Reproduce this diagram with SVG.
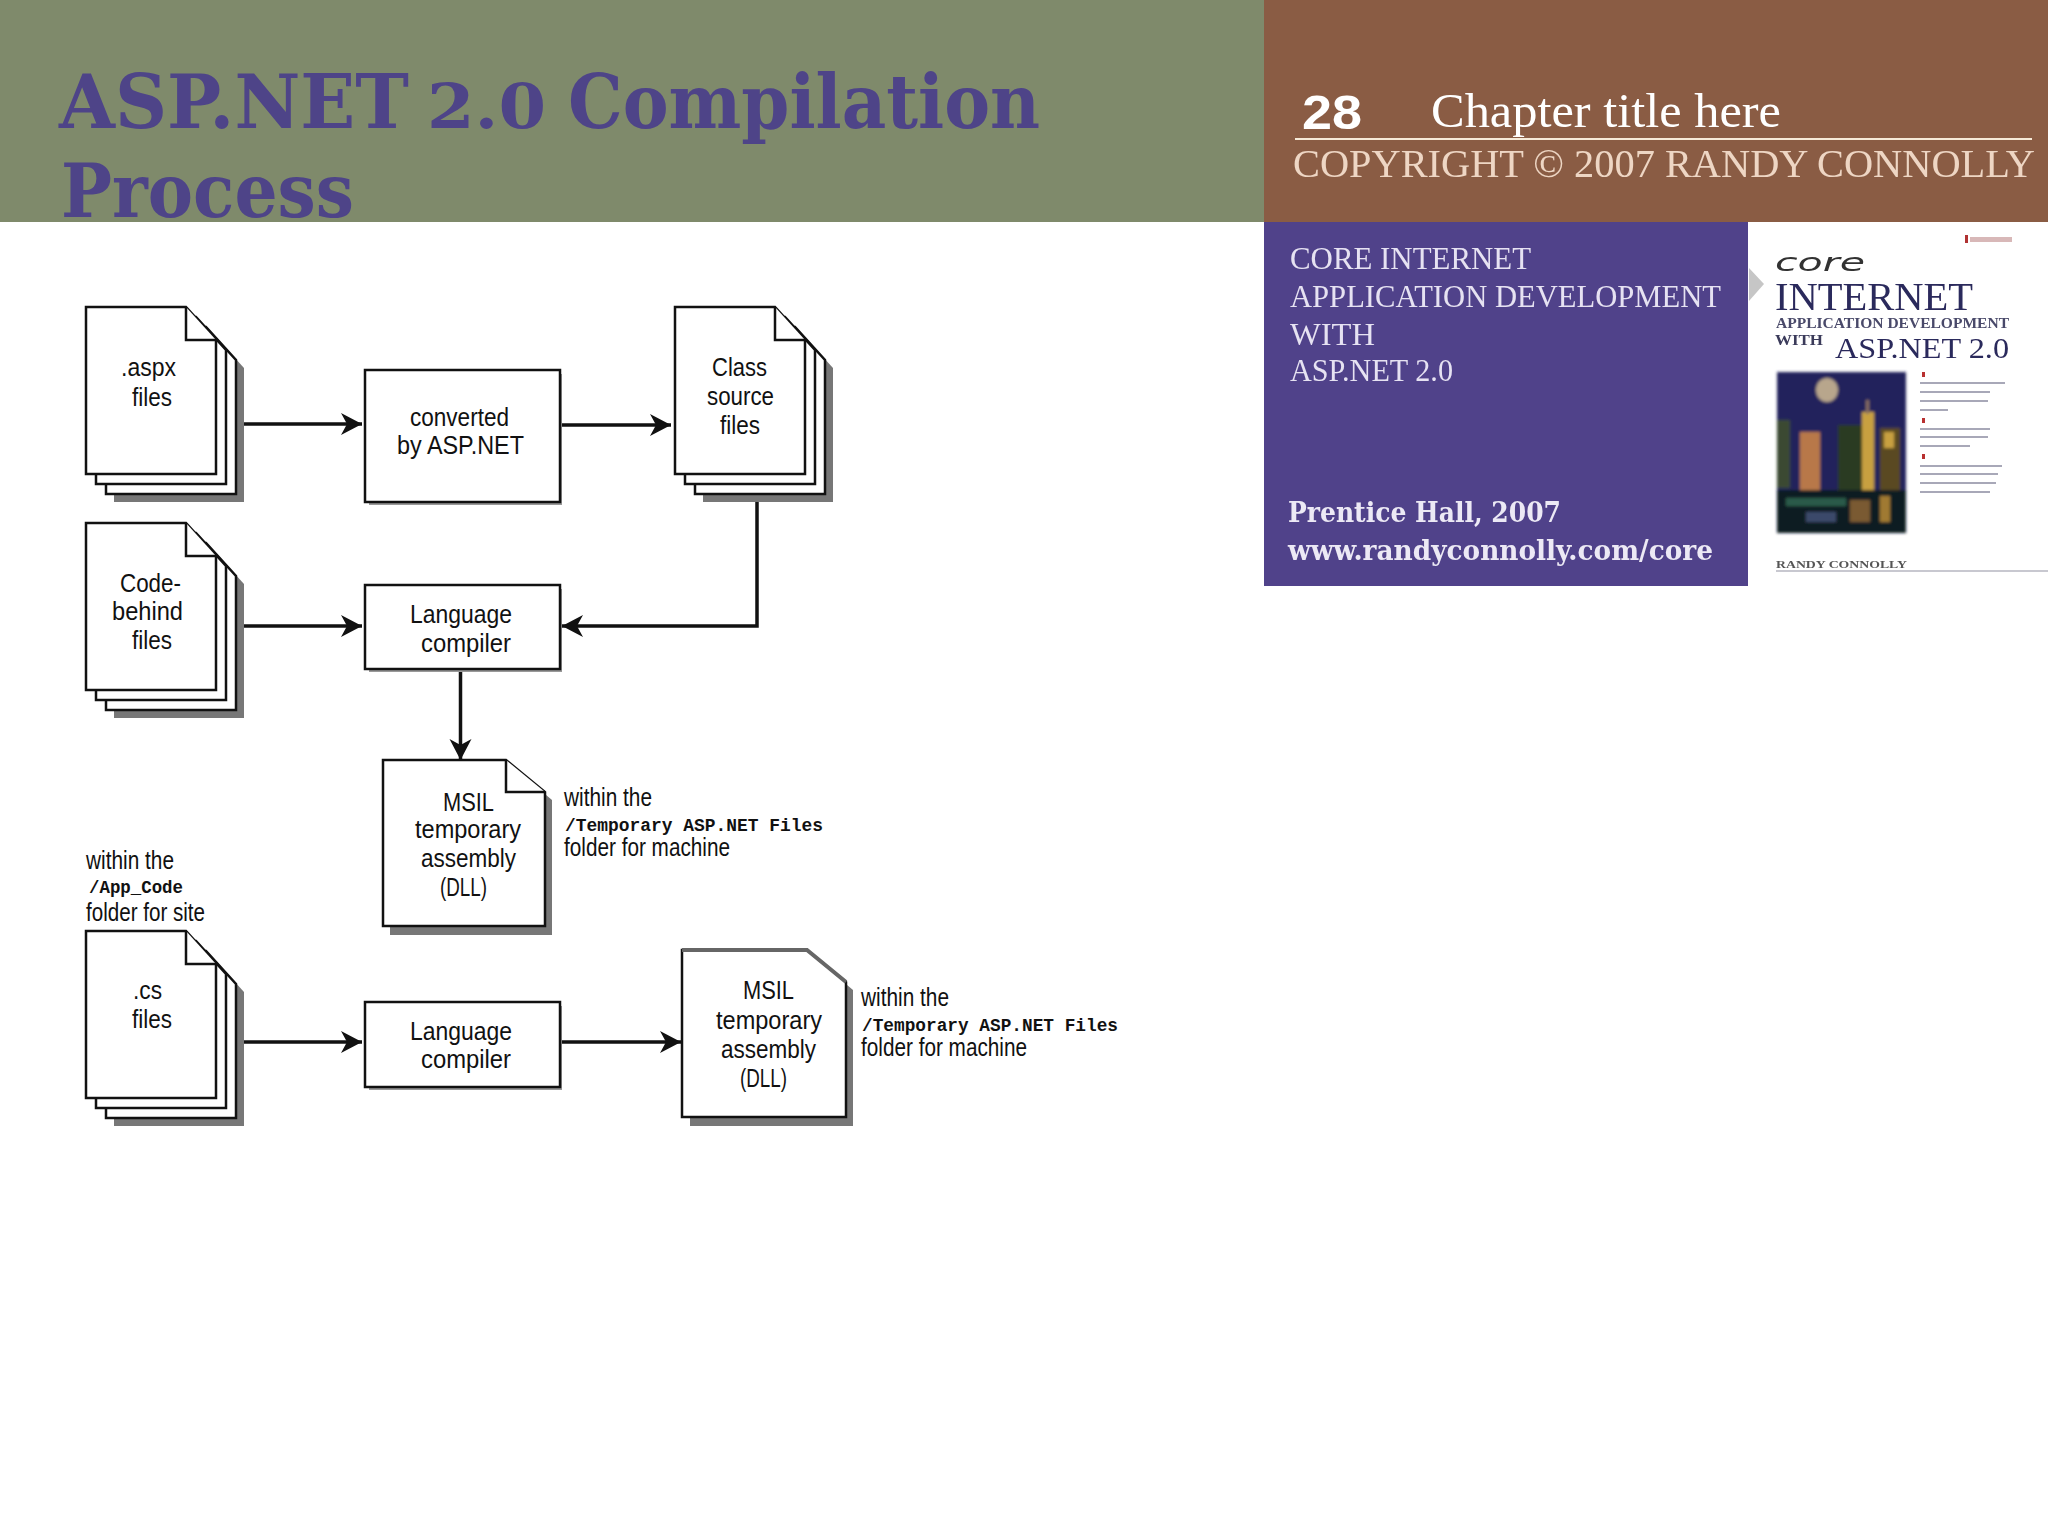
<svg xmlns="http://www.w3.org/2000/svg" xmlns:xlink="http://www.w3.org/1999/xlink" width="2048" height="1536" viewBox="0 0 2048 1536">
<style>
.ln{fill:#fff;stroke:#111;stroke-width:2.5;stroke-linejoin:miter}
.sh{fill:#777;stroke:none}
.con{fill:none;stroke:#111;stroke-width:3.500}
.t{font-family:"Liberation Sans",Arial,sans-serif;font-size:26px;fill:#111}
.m{font-family:"Liberation Mono","Courier New",monospace;font-size:18px;font-weight:bold;fill:#111}
.hd{font-family:"DejaVu Serif","Liberation Serif",serif;font-weight:bold;font-size:74px;fill:#4e4488}
.rs{font-family:"Liberation Serif","Times New Roman",serif}
.c{font-family:"Liberation Serif","Times New Roman",serif;font-size:32px;fill:#e6e2f2}
.b{font-family:"DejaVu Serif","Liberation Serif",serif;font-weight:bold;font-size:28px;fill:#ece9f5}
.blur{filter:url(#softer)}
</style>
<defs>
<marker id="ah" markerUnits="userSpaceOnUse" markerWidth="24" markerHeight="24" refX="21" refY="12" orient="auto"><path d="M0,1 L21,12 L0,23 L6,12 Z" fill="#111"/></marker>
<g id="stack">
<polygon class="sh" points="28,28 128,28 158,61 158,195 28,195"/>
<polygon class="ln" points="20,20 120,20 150,53 150,187 20,187"/>
<polygon class="ln" points="10,10 110,10 140,43 140,177 10,177"/>
<polygon class="ln" points="0,0 100,0 130,33 130,167 0,167"/>
<path class="ln" d="M100,0 V33 H130"/>
</g>
<filter id="soft" x="-5%" y="-5%" width="110%" height="110%"><feGaussianBlur stdDeviation="1.5"/></filter>
<filter id="softer" x="-5%" y="-5%" width="110%" height="110%"><feGaussianBlur stdDeviation="0.6"/></filter>
</defs>

<rect width="2048" height="1536" fill="#fff"/>

<g id="header">
<rect x="0" y="0" width="1264" height="222" fill="#7f8a6b"/>
<rect x="1264" y="0" width="784" height="222" fill="#8a5c44"/>
<text class="hd" y="128"><tspan x="59" textLength="350" lengthAdjust="spacingAndGlyphs">ASP.NET</tspan> <tspan x="427" font-size="62" textLength="119" lengthAdjust="spacingAndGlyphs">2.0</tspan> <tspan x="568" textLength="472" lengthAdjust="spacingAndGlyphs">Compilation</tspan></text>
<text class="hd" x="61" y="217" textLength="293" lengthAdjust="spacingAndGlyphs">Process</text>
<text x="1302" y="129" font-family="Liberation Sans,Arial,sans-serif" font-weight="bold" font-size="48" fill="#fff" textLength="60" lengthAdjust="spacingAndGlyphs">28</text>
<text class="rs" x="1431" y="127" font-size="48" fill="#fff" textLength="350" lengthAdjust="spacingAndGlyphs">Chapter title here</text>
<rect x="1295" y="138" width="737" height="2" fill="#f6ead8"/>
<text class="rs blur" x="1293" y="177" font-size="39" fill="#eed6c4" textLength="742" lengthAdjust="spacingAndGlyphs">COPYRIGHT © 2007 RANDY CONNOLLY</text>
</g>

<g id="book-panel">
<rect x="1264" y="222" width="484" height="364" fill="#50428a"/>
<g class="blur">
<text class="c" x="1290" y="269" textLength="241" lengthAdjust="spacingAndGlyphs">CORE INTERNET</text>
<text class="c" x="1290" y="307" textLength="431" lengthAdjust="spacingAndGlyphs">APPLICATION DEVELOPMENT</text>
<text class="c" x="1290" y="345" textLength="85" lengthAdjust="spacingAndGlyphs">WITH</text>
<text class="c" x="1290" y="381" textLength="163" lengthAdjust="spacingAndGlyphs">ASP.NET 2.0</text>
<text class="b" x="1288" y="522" textLength="273" lengthAdjust="spacingAndGlyphs">Prentice Hall, 2007</text>
<text class="b" x="1288" y="560" textLength="425" lengthAdjust="spacingAndGlyphs">www.randyconnolly.com/core</text>
</g>
</g>

<g id="book-cover">
<polygon points="1749,268 1764,284 1749,301" fill="#c6c6c6"/>
<rect x="1965" y="235" width="3" height="8" fill="#b03030" class="blur"/>
<rect x="1970" y="237" width="42" height="5" fill="#d8b8b8" class="blur"/>
<g class="blur">
<text x="1775" y="271" font-family="DejaVu Sans,sans-serif" font-style="italic" font-size="24" fill="#333" textLength="90" lengthAdjust="spacingAndGlyphs">core</text>
<text class="rs" x="1775" y="310" font-size="40" fill="#2c2a5c" textLength="198" lengthAdjust="spacingAndGlyphs">INTERNET</text>
<text class="rs" x="1776" y="328" font-size="14" font-weight="bold" fill="#4a4a6a" textLength="233" lengthAdjust="spacingAndGlyphs">APPLICATION DEVELOPMENT</text>
<text class="rs" x="1775" y="345" font-size="14" font-weight="bold" fill="#3a3a5a" textLength="48" lengthAdjust="spacingAndGlyphs">WITH</text>
<text class="rs" x="1835" y="358" font-size="30" fill="#2c2a5c" textLength="174" lengthAdjust="spacingAndGlyphs">ASP.NET 2.0</text>
</g>
<g filter="url(#soft)">
<rect x="1777" y="372" width="129" height="161" fill="#24225c"/>
<rect x="1777" y="490" width="129" height="43" fill="#0e1a22"/>
<ellipse cx="1827" cy="390" rx="11" ry="12" fill="#b8a68c"/>
<rect x="1777" y="420" width="13" height="68" fill="#3a4a30"/>
<rect x="1800" y="432" width="20" height="58" fill="#b8784a"/>
<rect x="1838" y="425" width="28" height="65" fill="#2a3a22"/>
<rect x="1862" y="412" width="12" height="78" fill="#c8a040"/>
<rect x="1866" y="400" width="3" height="14" fill="#8a7060"/>
<rect x="1880" y="428" width="20" height="62" fill="#5a4a20"/>
<rect x="1884" y="432" width="10" height="16" fill="#c8a040"/>
<rect x="1786" y="498" width="60" height="8" fill="#2a5a4a"/>
<rect x="1850" y="500" width="20" height="22" fill="#7a5a30"/>
<rect x="1880" y="496" width="10" height="26" fill="#a07a30"/>
<rect x="1806" y="512" width="30" height="10" fill="#3a4a6a"/>
</g>
<g fill="#a8a8b8" class="blur">
<rect x="1920" y="382" width="85" height="2"/><rect x="1920" y="391" width="70" height="2"/><rect x="1920" y="400" width="68" height="2"/><rect x="1920" y="409" width="28" height="2"/>
<rect x="1920" y="428" width="70" height="2"/><rect x="1920" y="436" width="68" height="2"/><rect x="1920" y="445" width="50" height="2"/>
<rect x="1920" y="465" width="82" height="2"/><rect x="1920" y="473" width="78" height="2"/><rect x="1920" y="482" width="76" height="2"/><rect x="1920" y="491" width="70" height="2"/>
</g>
<g fill="#b83030"><rect x="1922" y="372" width="3" height="5"/><rect x="1922" y="418" width="3" height="5"/><rect x="1922" y="454" width="3" height="5"/></g>
<text class="rs blur" x="1776" y="568" font-size="11" font-weight="bold" fill="#555" textLength="131" lengthAdjust="spacingAndGlyphs">RANDY CONNOLLY</text>
<rect x="1776" y="570" width="272" height="2" fill="#c8c8d0"/>
</g>

<g id="connectors">
<path class="con" d="M243,424 H362" marker-end="url(#ah)"/>
<path class="con" d="M562,425 H671" marker-end="url(#ah)"/>
<path class="con" d="M243,626 H362" marker-end="url(#ah)"/>
<path class="con" d="M757,494 V626 H562" marker-end="url(#ah)"/>
<path class="con" d="M460.500,669 V760" marker-end="url(#ah)"/>
<path class="con" d="M242,1042 H362" marker-end="url(#ah)"/>
<path class="con" d="M562,1042 H681" marker-end="url(#ah)"/>
</g>

<g id="aspx-files"><use href="#stack" transform="translate(86,307)"/>
<text class="t" x="121" y="376" textLength="55" lengthAdjust="spacingAndGlyphs">.aspx</text>
<text class="t" x="132" y="406" textLength="40" lengthAdjust="spacingAndGlyphs">files</text></g>

<g id="converted">
<rect class="sh" x="369" y="374" width="193" height="131" style="fill:#999"/>
<rect class="ln" x="365" y="370" width="195" height="132"/>
<text class="t" x="410" y="426" textLength="99" lengthAdjust="spacingAndGlyphs">converted</text>
<text class="t" x="397" y="454" textLength="127" lengthAdjust="spacingAndGlyphs">by ASP.NET</text></g>

<g id="class-source"><use href="#stack" transform="translate(675,307)"/>
<text class="t" x="712" y="376" textLength="55" lengthAdjust="spacingAndGlyphs">Class</text>
<text class="t" x="707" y="405" textLength="67" lengthAdjust="spacingAndGlyphs">source</text>
<text class="t" x="720" y="434" textLength="40" lengthAdjust="spacingAndGlyphs">files</text></g>

<g id="code-behind"><use href="#stack" transform="translate(86,523)"/>
<text class="t" x="120" y="592" textLength="61" lengthAdjust="spacingAndGlyphs">Code-</text>
<text class="t" x="112" y="620" textLength="71" lengthAdjust="spacingAndGlyphs">behind</text>
<text class="t" x="132" y="649" textLength="40" lengthAdjust="spacingAndGlyphs">files</text></g>

<g id="compiler-1">
<rect class="sh" x="369" y="589" width="193" height="83" style="fill:#999"/>
<rect class="ln" x="365" y="585" width="195" height="84"/>
<text class="t" x="410" y="623" textLength="102" lengthAdjust="spacingAndGlyphs">Language</text>
<text class="t" x="421" y="652" textLength="90" lengthAdjust="spacingAndGlyphs">compiler</text></g>

<g id="msil-1">
<polygon class="sh" points="390,768 514,768 552,800 552,935 390,935"/>
<polygon class="ln" points="383,760 506,760 545,792 545,926 383,926"/>
<path class="ln" d="M506,760 V792 H545"/>
<text class="t" x="443" y="811" textLength="51" lengthAdjust="spacingAndGlyphs">MSIL</text>
<text class="t" x="415" y="838" textLength="106" lengthAdjust="spacingAndGlyphs">temporary</text>
<text class="t" x="421" y="867" textLength="95" lengthAdjust="spacingAndGlyphs">assembly</text>
<text class="t" x="440" y="896" textLength="47" lengthAdjust="spacingAndGlyphs">(DLL)</text></g>

<g id="note-temp-1">
<text class="t" x="564" y="806" textLength="88" lengthAdjust="spacingAndGlyphs">within the</text>
<text class="m" x="565" y="831" textLength="258" lengthAdjust="spacingAndGlyphs">/Temporary ASP.NET Files</text>
<text class="t" x="564" y="856" textLength="166" lengthAdjust="spacingAndGlyphs">folder for machine</text></g>

<g id="note-app-code">
<text class="t" x="86" y="869" textLength="88" lengthAdjust="spacingAndGlyphs">within the</text>
<text class="m" x="89" y="893" textLength="94" lengthAdjust="spacingAndGlyphs">/App_Code</text>
<text class="t" x="86" y="921" textLength="119" lengthAdjust="spacingAndGlyphs">folder for site</text></g>

<g id="cs-files"><use href="#stack" transform="translate(86,931)"/>
<text class="t" x="133" y="999" textLength="29" lengthAdjust="spacingAndGlyphs">.cs</text>
<text class="t" x="132" y="1028" textLength="40" lengthAdjust="spacingAndGlyphs">files</text></g>

<g id="compiler-2">
<rect class="sh" x="369" y="1006" width="193" height="84" style="fill:#999"/>
<rect class="ln" x="365" y="1002" width="195" height="85"/>
<text class="t" x="410" y="1040" textLength="102" lengthAdjust="spacingAndGlyphs">Language</text>
<text class="t" x="421" y="1068" textLength="90" lengthAdjust="spacingAndGlyphs">compiler</text></g>

<g id="msil-2">
<polygon class="sh" points="690,958 815,958 853,990 853,1126 690,1126"/>
<polygon class="ln" points="682,950 807,950 846,982 846,1117 682,1117"/>
<path d="M682,950 H807 L846,982" fill="none" stroke="#666" stroke-width="4"/>
<text class="t" x="743" y="999" textLength="51" lengthAdjust="spacingAndGlyphs">MSIL</text>
<text class="t" x="716" y="1029" textLength="106" lengthAdjust="spacingAndGlyphs">temporary</text>
<text class="t" x="721" y="1058" textLength="95" lengthAdjust="spacingAndGlyphs">assembly</text>
<text class="t" x="740" y="1087" textLength="47" lengthAdjust="spacingAndGlyphs">(DLL)</text></g>

<g id="note-temp-2">
<text class="t" x="861" y="1006" textLength="88" lengthAdjust="spacingAndGlyphs">within the</text>
<text class="m" x="862" y="1031" textLength="256" lengthAdjust="spacingAndGlyphs">/Temporary ASP.NET Files</text>
<text class="t" x="861" y="1056" textLength="166" lengthAdjust="spacingAndGlyphs">folder for machine</text></g>
</svg>
